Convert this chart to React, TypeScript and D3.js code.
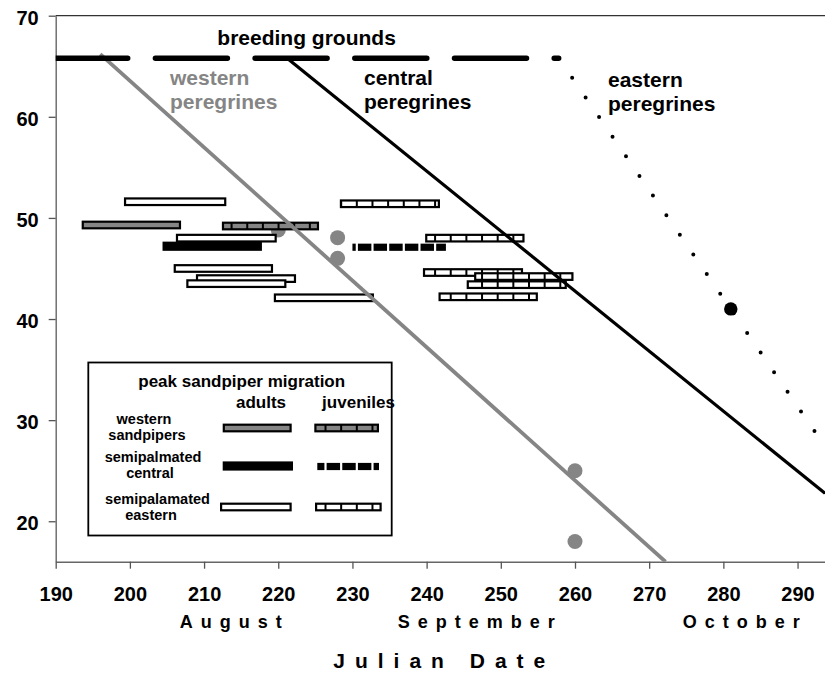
import React, { useRef, useEffect } from 'react';
import * as d3 from 'd3';

// axis ticks
const xTicks = [190, 200, 210, 220, 230, 240, 250, 260, 270, 280, 290];
const yTicks = [20, 30, 40, 50, 60, 70];
const monthNames = ['August', 'September', 'October'];
const monthCenters = [213.6, 246.7, 282.4];

// peak sandpiper migration bars (julian day start/end, latitude)
const westernAdults = [{ start: 193.5, end: 206.9, lat: 49.3 }];
const westernJuveniles = [{ start: 212.4, end: 225.5, lat: 49.2 }];
const centralAdults = [{ start: 204.4, end: 217.8, lat: 47.2 }];
const centralJuveniles = [{ start: 230.0, end: 242.6, lat: 47.1 }];
const easternAdults = [
  { start: 199.2, end: 213.0, lat: 51.6 },
  { start: 206.2, end: 219.8, lat: 48.0 },
  { start: 205.9, end: 219.3, lat: 45.0 },
  { start: 208.9, end: 222.4, lat: 44.0 },
  { start: 207.6, end: 221.1, lat: 43.5 },
  { start: 219.4, end: 232.9, lat: 42.1 },
];
const easternJuveniles = [
  { start: 228.3, end: 241.8, lat: 51.4 },
  { start: 239.8, end: 253.2, lat: 48.0 },
  { start: 239.5, end: 253.0, lat: 44.6 },
  { start: 246.4, end: 259.8, lat: 44.2 },
  { start: 245.4, end: 258.9, lat: 43.4 },
  { start: 241.6, end: 255.0, lat: 42.2 },
];

// peregrine migration lines and observations
const breedingLine = [{ day: 190, lat: 65.8 }, { day: 257.8, lat: 65.8 }];
const westernLine = [{ day: 196, lat: 66.2 }, { day: 272.2, lat: 16 }];
const centralLine = [{ day: 221.2, lat: 65.8 }, { day: 293.7, lat: 22.76 }];
const easternLine = [{ day: 257.8, lat: 65.8 }, { day: 292.3, lat: 28.9 }];
const westernDots = [
  { day: 220, lat: 48.8 },
  { day: 228, lat: 48.05 },
  { day: 228, lat: 46.0 },
  { day: 260, lat: 25.0 },
  { day: 260, lat: 18.0 },
];
const easternDots = [{ day: 281, lat: 41.0 }];

// pattern fill grid for the juvenile bars
const cellOrigin = 190.5;
const cellDays = 2.11;

const FONT = '"Liberation Sans", Arial, Helvetica, sans-serif';
const GRAY = '#858585';

export default function App() {
  const svgRef = useRef<SVGSVGElement>(null);

  useEffect(() => {
    if (!svgRef.current) return;
    const width = 825;
    const height = 675;
    const left = 55.7, right = 825, top = 15.7, bottom = 561.7;

    const svg = d3.select(svgRef.current);
    svg.selectAll('*').remove();
    svg.attr('width', width).attr('height', height);

    const x = d3.scaleLinear().domain([190, 293.7]).range([left, right]);
    const y = d3.scaleLinear().domain([16, 70]).range([bottom, top]);

    svg.append('rect').attr('width', width).attr('height', height).attr('fill', '#fff');

    svg.append('defs').append('clipPath').attr('id', 'plot')
      .append('rect').attr('x', left).attr('y', top).attr('width', right - left).attr('height', bottom - top);

    // top border
    svg.append('line')
      .attr('x1', left).attr('x2', right).attr('y1', y(70)).attr('y2', y(70))
      .attr('stroke', '#333').attr('stroke-width', 1.3);

    // axes
    const yAxis = svg.append('g')
      .attr('transform', `translate(${left},0)`)
      .call(d3.axisLeft(y).tickValues(yTicks).tickSize(7).tickSizeOuter(0).tickPadding(10));
    yAxis.select('.domain').attr('stroke', '#666').attr('stroke-width', 1.4);
    yAxis.selectAll('line').attr('stroke', '#555').attr('stroke-width', 1.3);
    yAxis.selectAll('text')
      .attr('font-family', FONT).attr('font-size', 20).attr('font-weight', 'bold')
      .attr('fill', '#000').attr('dy', '0.42em');

    const xAxis = svg.append('g')
      .attr('transform', `translate(0,${bottom})`)
      .call(d3.axisBottom(x).tickValues(xTicks).tickSize(7).tickSizeOuter(0).tickPadding(0));
    xAxis.select('.domain').attr('stroke', '#666').attr('stroke-width', 1.4);
    xAxis.selectAll('line').attr('stroke', '#555').attr('stroke-width', 1.3);
    xAxis.selectAll('text')
      .attr('font-family', FONT).attr('font-size', 20).attr('font-weight', 'bold')
      .attr('fill', '#000').attr('y', 39).attr('dy', 0);

    // month labels
    svg.append('g').selectAll('text')
      .data(monthNames)
      .enter()
      .append('text')
      .attr('x', (d, i) => x(monthCenters[i]) + 4)
      .attr('y', 628)
      .attr('text-anchor', 'middle')
      .attr('font-family', FONT).attr('font-size', 18).attr('font-weight', 'bold')
      .attr('letter-spacing', 8)
      .text(d => d);

    svg.append('text')
      .attr('x', x(241.7) + 5).attr('y', 668)
      .attr('text-anchor', 'middle')
      .attr('font-family', FONT).attr('font-size', 21).attr('font-weight', 'bold')
      .attr('letter-spacing', 10)
      .text('Julian Date');

    const plot = svg.append('g').attr('clip-path', 'url(#plot)');

    // observation dots (behind the bars)
    plot.selectAll('.wdot')
      .data(westernDots)
      .enter()
      .append('circle')
      .attr('cx', d => x(d.day)).attr('cy', d => y(d.lat)).attr('r', 7.5)
      .attr('fill', GRAY);

    // bars
    const bh = 6.6; // inner bar height (px)
    const sw = 2.2;

    const dividers = (s: number, e: number) => {
      const out: number[] = [];
      const k0 = Math.ceil((s - cellOrigin) / cellDays);
      for (let k = k0; cellOrigin + k * cellDays < e; k++) out.push(cellOrigin + k * cellDays);
      return out.filter(d => d > s + 0.15 && d < e - 0.15);
    };

    const drawPlain = (g: any, rows: any[], fill: string) => {
      g.selectAll(null)
        .data(rows)
        .enter()
        .append('rect')
        .attr('x', (d: any) => x(d.start) + sw / 2)
        .attr('y', (d: any) => y(d.lat) - bh / 2)
        .attr('width', (d: any) => x(d.end) - x(d.start) - sw)
        .attr('height', bh)
        .attr('fill', fill)
        .attr('stroke', '#000')
        .attr('stroke-width', sw);
    };

    const drawCells = (g: any, rows: any[], fill: string) => {
      rows.forEach(d => {
        const bar = g.append('g');
        bar.append('rect')
          .attr('x', x(d.start) + sw / 2)
          .attr('y', y(d.lat) - bh / 2)
          .attr('width', x(d.end) - x(d.start) - sw)
          .attr('height', bh)
          .attr('fill', fill)
          .attr('stroke', '#000')
          .attr('stroke-width', sw);
        bar.selectAll('line')
          .data(dividers(d.start, d.end))
          .enter()
          .append('line')
          .attr('x1', (v: number) => x(v)).attr('x2', (v: number) => x(v))
          .attr('y1', y(d.lat) - bh / 2).attr('y2', y(d.lat) + bh / 2)
          .attr('stroke', '#000').attr('stroke-width', 2);
      });
    };

    const drawSolid = (g: any, rows: any[]) => {
      g.selectAll(null)
        .data(rows)
        .enter()
        .append('rect')
        .attr('x', (d: any) => x(d.start))
        .attr('y', (d: any) => y(d.lat) - 4.6)
        .attr('width', (d: any) => x(d.end) - x(d.start))
        .attr('height', 9.2)
        .attr('fill', '#000');
    };

    const drawDashes = (g: any, rows: any[]) => {
      rows.forEach(d => {
        const b = [d.start, ...dividers(d.start, d.end), d.end];
        for (let i = 0; i < b.length - 1; i++) {
          const x0 = i === 0 ? x(b[i]) : x(b[i]) + 1.1;
          const x1 = i === b.length - 2 ? x(b[i + 1]) : x(b[i + 1]) - 1.1;
          if (x1 - x0 <= 0) continue;
          g.append('rect')
            .attr('x', x0).attr('y', y(d.lat) - 3.6)
            .attr('width', x1 - x0).attr('height', 7.2)
            .attr('fill', '#000');
        }
      });
    };

    const bars = plot.append('g');
    drawPlain(bars, westernAdults, GRAY);
    drawCells(bars, westernJuveniles, GRAY);
    drawSolid(bars, centralAdults);
    drawDashes(bars, centralJuveniles);
    drawPlain(bars, easternAdults, '#fff');
    drawCells(bars, easternJuveniles, '#fff');

    // peregrine lines
    const line = d3.line<{ day: number; lat: number }>().x(d => x(d.day)).y(d => y(d.lat));

    plot.append('path').datum(westernLine)
      .attr('d', line).attr('fill', 'none').attr('stroke', GRAY).attr('stroke-width', 3.8);
    plot.append('path').datum(centralLine)
      .attr('d', line).attr('fill', 'none').attr('stroke', '#000').attr('stroke-width', 3.2);
    plot.append('path').datum(breedingLine)
      .attr('d', line).attr('fill', 'none').attr('stroke', '#000').attr('stroke-width', 5.5)
      .attr('stroke-linecap', 'round').attr('stroke-dasharray', '72 27.7');
    plot.append('path').datum(easternLine)
      .attr('d', line).attr('fill', 'none').attr('stroke', '#000').attr('stroke-width', 4)
      .attr('stroke-linecap', 'round').attr('stroke-dasharray', '0 23.8');

    plot.selectAll('.edot')
      .data(easternDots)
      .enter()
      .append('circle')
      .attr('cx', d => x(d.day)).attr('cy', d => y(d.lat)).attr('r', 6.7)
      .attr('fill', '#000');

    // annotations
    const label = (tx: number, ty: number, txt: string, size: number, anchor = 'start', fill = '#000') =>
      svg.append('text')
        .attr('x', tx).attr('y', ty)
        .attr('text-anchor', anchor)
        .attr('font-family', FONT).attr('font-size', size).attr('font-weight', 'bold')
        .attr('fill', fill)
        .text(txt);

    label(306.6, 45, 'breeding grounds', 21, 'middle');
    label(170, 85, 'western', 21, 'start', GRAY);
    label(170, 109, 'peregrines', 21, 'start', GRAY);
    label(364, 85, 'central', 21);
    label(364, 109, 'peregrines', 21);
    label(608, 87, 'eastern', 21);
    label(608, 111, 'peregrines', 21);

    // legend
    const lg = svg.append('g');
    lg.append('rect')
      .attr('x', 88.3).attr('y', 362.5).attr('width', 303.4).attr('height', 173)
      .attr('fill', '#fff').attr('stroke', '#000').attr('stroke-width', 1.8);

    const lx = (px: number) => x.invert(px);
    label(241.7, 387, 'peak sandpiper migration', 17, 'middle');
    label(261, 408, 'adults', 17, 'middle');
    label(358.5, 408, 'juveniles', 17, 'middle');
    label(144, 424, 'western', 14.5, 'middle');
    label(147, 440, 'sandpipers', 14.5, 'middle');
    label(153, 462, 'semipalmated', 14.5, 'middle');
    label(150, 478, 'central', 14.5, 'middle');
    label(157.5, 504, 'semipalamated', 14.5, 'middle');
    label(151, 520, 'eastern', 14.5, 'middle');

    const legendRow = (py: number) => y.invert(py);
    drawPlain(lg, [{ start: lx(222.7), end: lx(291.7), lat: legendRow(428) }], GRAY);
    drawCells(lg, [{ start: lx(314.3), end: lx(379), lat: legendRow(428) }], GRAY);
    drawSolid(lg, [{ start: lx(222.7), end: lx(293), lat: legendRow(466) }]);
    drawDashes(lg, [{ start: lx(317.3), end: lx(379), lat: legendRow(466.5) }]);
    drawPlain(lg, [{ start: lx(220), end: lx(291.7), lat: legendRow(507) }], '#fff');
    drawCells(lg, [{ start: lx(315), end: lx(381.7), lat: legendRow(507) }], '#fff');
  }, []);

  return (
    <svg ref={svgRef} style={{ position: 'absolute', left: 0, top: 0, display: 'block' }} />
  );
}
